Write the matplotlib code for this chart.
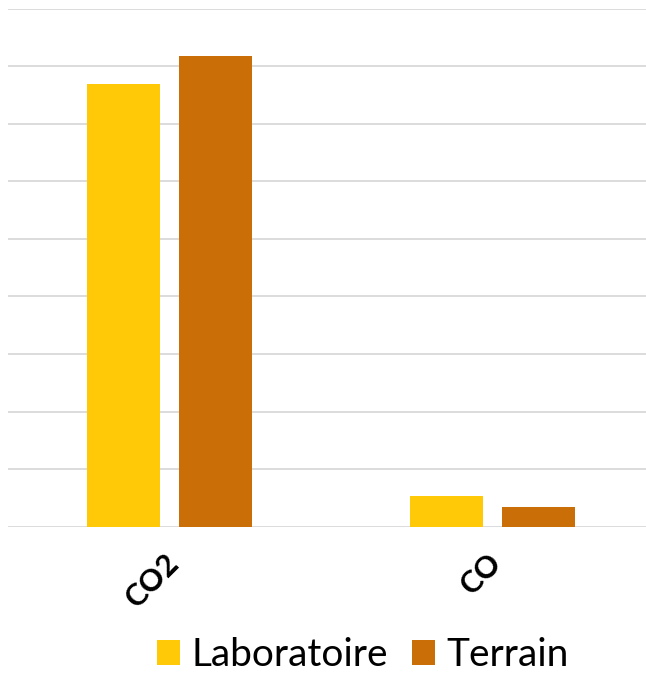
import matplotlib
matplotlib.use("Agg")
import matplotlib.pyplot as plt
from matplotlib.patches import Patch
from matplotlib.transforms import ScaledTranslation
import numpy as np

# Gas categories and the two measurement series
categories = ["CO2", "CO"]
series_names = ["Laboratoire", "Terrain"]
laboratoire = [7.69, 0.54]
terrain = [8.17, 0.35]
colors = ["#FFC908", "#CA6F07"]

W, H, DPI = 646, 674, 100
fig = plt.figure(figsize=(W / DPI, H / DPI), dpi=DPI)

left_px, right_px = 8, 654
base_px, top_px = 526.7, 8.7
ax = fig.add_axes([left_px / W, (H - base_px) / H,
                   (right_px - left_px) / W, (base_px - top_px) / H])

x = np.arange(len(categories))
bar_w = 0.226
offset = 0.1416
for vals, name, c, sgn in zip([laboratoire, terrain], series_names, colors, [-1, 1]):
    ax.bar(x + sgn * offset, vals, width=bar_w, color=c, label=name, zorder=3)

ax.set_xlim(-0.5, len(categories) - 0.5)
ax.set_ylim(0, 9)
ax.set_yticks(np.arange(0, 10, 1))
ax.yaxis.grid(True, color="#d9d9d9", linewidth=1.3, zorder=0)
ax.set_axisbelow(True)
ax.tick_params(axis="y", left=False, labelleft=False)
ax.tick_params(axis="x", bottom=False, pad=12)
for s in ax.spines.values():
    s.set_visible(False)

ax.set_xticks(x)
ax.set_xticklabels(categories, rotation=45, ha="right", rotation_mode="anchor",
                   fontsize=22, fontweight="bold", family=["Lato", "DejaVu Sans"])
shift = ScaledTranslation(-5 / DPI, 0, fig.dpi_scale_trans)
for lbl in ax.get_xticklabels():
    lbl.set_transform(lbl.get_transform() + shift)

handles = [Patch(facecolor=c, label=n) for c, n in zip(colors, series_names)]
fig.legend(handles=handles, loc="center", bbox_to_anchor=(363 / W, 1 - 655 / H),
           ncol=2, frameon=False, handlelength=0.6, handleheight=0.6,
           handletextpad=0.3, columnspacing=0.6, borderaxespad=0,
           prop={"family": ["Lato", "DejaVu Sans"], "size": 28})

fig.savefig("out.png", dpi=DPI)
